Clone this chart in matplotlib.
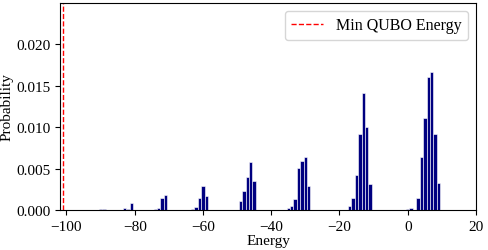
import matplotlib
matplotlib.use("Agg")
import matplotlib.pyplot as plt
import numpy as np

# energy bin centres and probabilities
energies = np.array([
    -90, -89,
    -83, -82, -81,
    -74, -73, -72, -71,
    -63, -62, -61, -60, -59,
    -50, -49, -48, -47, -46, -45,
    -35, -34, -33, -32, -31, -30, -29,
    -17, -16, -15, -14, -13, -12, -11,
    0, 1, 3, 4, 5, 6, 7, 8, 9,
])
probs = np.array([
    0.00010, 0.00015,
    0.00030, 0.00008, 0.00090,
    0.00012, 0.00025, 0.00146, 0.00178,
    0.00008, 0.00032, 0.00141, 0.00285, 0.00165,
    0.00005, 0.00104, 0.00233, 0.00394, 0.00574, 0.00345,
    0.00024, 0.00044, 0.00133, 0.00506, 0.00586, 0.00646, 0.00285,
    0.00048, 0.00145, 0.00426, 0.00916, 0.01418, 0.01004, 0.00313,
    0.00008, 0.00020, 0.00141, 0.00642, 0.01108, 0.01606, 0.01671, 0.00916, 0.00329,
])
min_qubo_energy = -100.9

plt.rcParams["font.family"] = ["Liberation Serif", "DejaVu Serif"]
plt.rcParams["mathtext.fontset"] = "stix"

fig = plt.figure(figsize=(4.89, 2.51), dpi=100)
ax = fig.add_axes([0.1227, 0.1594, 0.9734 - 0.1227, 0.984 - 0.1594])

ax.bar(energies, probs, width=1.0, color="navy", edgecolor="white", linewidth=0.4)
ax.axvline(min_qubo_energy, color="red", linestyle="--", linewidth=1.0, label="Min QUBO Energy")

ax.set_xlim(min_qubo_energy - 1, 20)
ax.set_ylim(0, 0.025)
ax.set_yticks([0, 0.005, 0.010, 0.015, 0.020])
ax.set_yticklabels(["0.000", "0.005", "0.010", "0.015", "0.020"])
ax.tick_params(labelsize=11)
ax.set_xlabel("Energy", fontsize=11, labelpad=1)
ax.set_ylabel("Probability", fontsize=11, labelpad=2)
ax.legend(loc="upper right", fontsize=11.5)

fig.savefig("out.png", dpi=100)
